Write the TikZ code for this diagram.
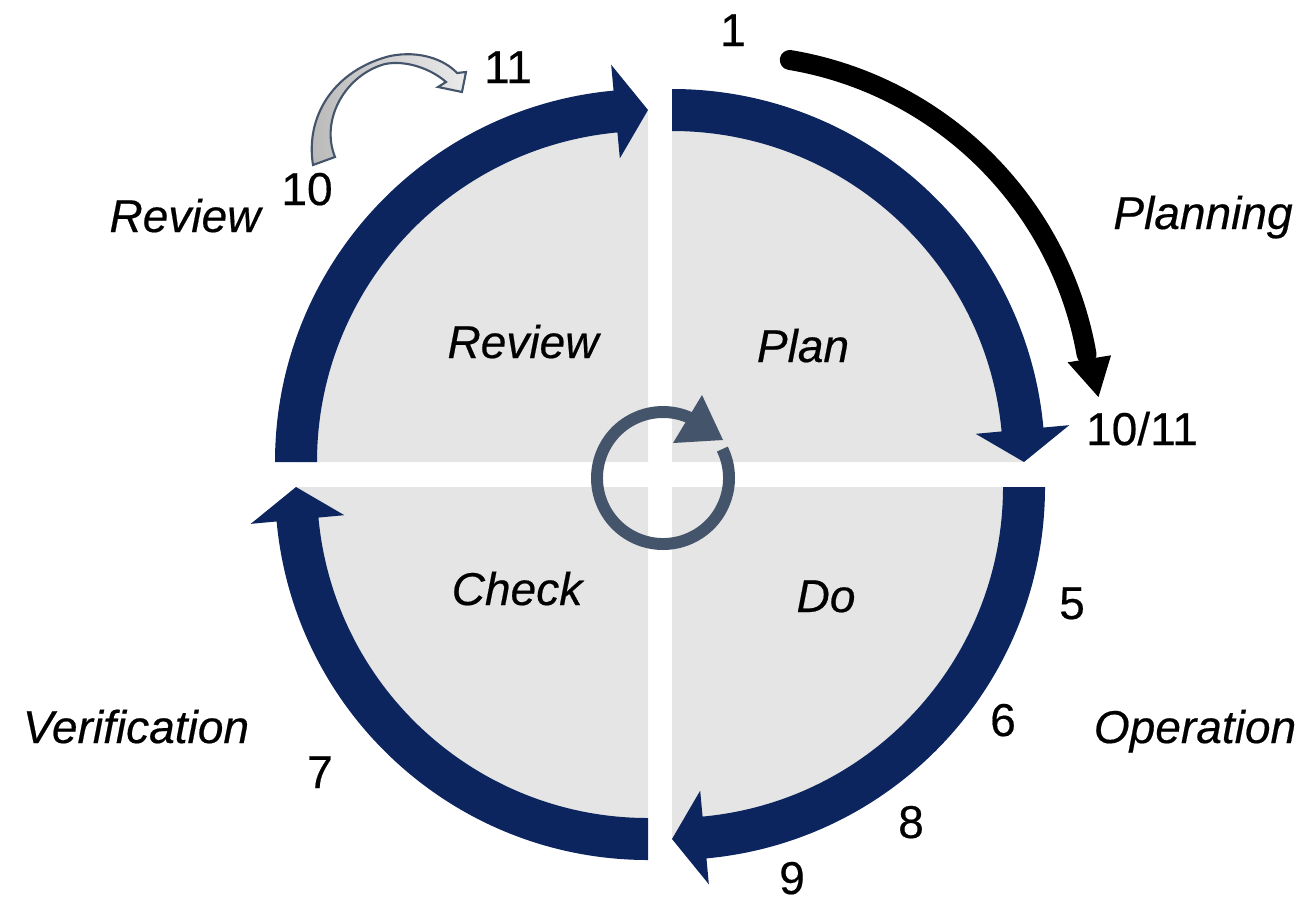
\documentclass[tikz,border=0pt]{standalone}
\usepackage{fontspec}
\setmainfont{Liberation Sans}
\newfontfamily\heavy[FakeBold=0.4]{Liberation Sans}
\usetikzlibrary{calc}
\definecolor{navy}{HTML}{0C255E}
\definecolor{quadgray}{HTML}{E5E5E5}
\definecolor{slate}{HTML}{44546A}
\definecolor{lightarrowA}{HTML}{B8B8B8}
\definecolor{lightarrowB}{HTML}{EAEAEA}
\tikzset{
  lbl/.style={font=\heavy\fontsize{13.1}{15}\selectfont\itshape, anchor=base, inner sep=0pt},
  num/.style={font=\heavy\fontsize{13.1}{15}\selectfont, anchor=base, inner sep=0pt},
  quad/.style={fill=quadgray},
  band/.style={fill=navy},
}
\begin{document}
\begin{tikzpicture}[x=0.01cm, y=-0.01cm]
\useasboundingbox (0,0) rectangle (1304,900);
% quadrant corners
\coordinate (cP) at (672,462);
\coordinate (cD) at (672,487);
\coordinate (cC) at (648,487);
\coordinate (cR) at (648,462);
% gray quarter disks
\fill[quad] (cP) -- ($(cP)+(-90:352)$) arc[start angle=-90, end angle=0, radius=352] -- cycle;
\fill[quad] (cD) -- ($(cD)+(0:352)$) arc[start angle=0, end angle=90, radius=352] -- cycle;
\fill[quad] (cC) -- ($(cC)+(90:352)$) arc[start angle=90, end angle=180, radius=352] -- cycle;
\fill[quad] (cR) -- ($(cR)+(180:352)$) arc[start angle=180, end angle=270, radius=352] -- cycle;
% bands with heads
\fill[band] ($(cP)+(-90:373)$) arc[start angle=-90, end angle=-5.3, radius=373]
  -- ($(cP)+(-5.3:399)$) -- ($(cP)+(0:352)$) -- ($(cP)+(-5.3:305)$) -- ($(cP)+(-5.3:331)$)
  arc[start angle=-5.3, end angle=-90, radius=331] -- cycle;
\fill[band] ($(cD)+(0:373)$) arc[start angle=0, end angle=84.7, radius=373]
  -- ($(cD)+(84.7:399)$) -- ($(cD)+(90:352)$) -- ($(cD)+(84.7:305)$) -- ($(cD)+(84.7:331)$)
  arc[start angle=84.7, end angle=0, radius=331] -- cycle;
\fill[band] ($(cC)+(90:373)$) arc[start angle=90, end angle=174.7, radius=373]
  -- ($(cC)+(174.7:399)$) -- ($(cC)+(180:352)$) -- ($(cC)+(174.7:305)$) -- ($(cC)+(174.7:331)$)
  arc[start angle=174.7, end angle=90, radius=331] -- cycle;
\fill[band] ($(cR)+(180:373)$) arc[start angle=180, end angle=264.7, radius=373]
  -- ($(cR)+(264.7:399)$) -- ($(cR)+(270:352)$) -- ($(cR)+(264.7:305)$) -- ($(cR)+(264.7:331)$)
  arc[start angle=264.7, end angle=180, radius=331] -- cycle;
% center circular arrow
\coordinate (cc) at (663,478);
\draw[slate, line width=3.4pt] ($(cc)+(-26:66)$) arc[start angle=-26, end angle=295, radius=66];
\fill[slate] (702,395) -- (673,443) -- (723,440) -- cycle;
% black planning arrow
\coordinate (cB) at (730,417);
\draw[black, line width=5.67pt, line cap=round] ($(cB)+(-80.5:362)$) arc[start angle=-80.5, end angle=-10, radius=362];
\fill[black] ($(cB)+(-9.2:342)$) -- ($(cB)+(-3.1:369)$) -- ($(cB)+(-9.2:386)$) -- cycle;
% small gray curved arrow 10 -> 11
\path[draw=slate, line width=0.6pt, left color=lightarrowA, right color=lightarrowB]
  (313,165) .. controls (305,115) and (335,70) .. (390,56)
  .. controls (420,50) and (445,60) .. (457,73)
  -- (466,72) -- (462,92) -- (438,87) -- (446,82)
  .. controls (430,68) and (405,60) .. (385,64)
  .. controls (345,75) and (320,120) .. (335,157) -- cycle;
% labels
\node[num] (n1) at (733,46) {1};
\node[num] (n11) at (508,83) {11};
\node[num] (n10) at (307,205) {10};
\node[lbl] (revout) at (185,232) {Review};
\node[lbl] (planning) at (1203,229) {Planning};
\node[lbl] (revin) at (523,358) {Review};
\node[lbl] (plan) at (803,362) {Plan};
\node[num] (n1011) at (1142,445) {10/11};
\node[lbl] (check) at (517,605) {Check};
\node[lbl] (do) at (826,612) {Do};
\node[num] (n5) at (1072,619) {5};
\node[num] (n6) at (1003,736) {6};
\node[lbl] (operation) at (1195,743) {Operation};
\node[lbl] (verification) at (136,743) {Verification};
\node[num] (n7) at (320,788) {7};
\node[num] (n8) at (911,838) {8};
\node[num] (n9) at (792,894) {9};
\end{tikzpicture}
\end{document}
